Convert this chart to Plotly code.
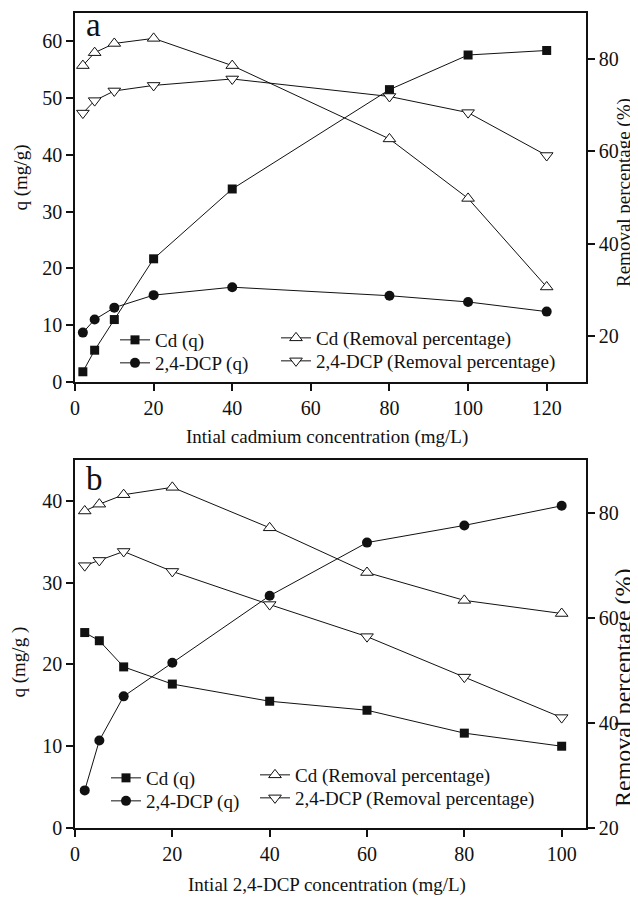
import plotly.graph_objects as go

# ---------------- data ----------------
# Panel a: initial cadmium concentration (mg/L)
conc_cd = [2, 5, 10, 20, 40, 80, 100, 120]
a_cd_q = [1.8, 5.6, 11.0, 21.7, 34.0, 51.5, 57.6, 58.4]
a_dcp_q = [8.7, 11.0, 13.1, 15.3, 16.7, 15.2, 14.1, 12.4]
a_cd_rem = [78.6, 81.4, 83.4, 84.5, 78.6, 62.7, 49.8, 30.6]
a_dcp_rem = [68.3, 71.0, 73.1, 74.3, 75.7, 71.9, 68.4, 59.1]

# Panel b: initial 2,4-DCP concentration (mg/L)
conc_dcp = [2, 5, 10, 20, 40, 60, 80, 100]
b_cd_q = [23.9, 22.9, 19.7, 17.6, 15.5, 14.4, 11.6, 10.0]
b_dcp_q = [4.6, 10.7, 16.1, 20.2, 28.4, 34.9, 37.0, 39.4]
b_cd_rem = [80.3, 81.6, 83.4, 84.8, 77.1, 68.6, 63.3, 60.8]
b_dcp_rem = [69.9, 70.9, 72.6, 68.8, 62.5, 56.4, 48.7, 41.0]

names_q = ["Cd (q)", "2,4-DCP (q)"]
names_rem = ["Cd (Removal percentage)", "2,4-DCP (Removal percentage)"]
x_title_a = "Intial cadmium concentration (mg/L)"
x_title_b = "Intial 2,4-DCP concentration (mg/L)"

# ---------------- geometry ----------------
# The page body has an 8px default margin, so the figure is made 8px smaller
# and all target (window) pixel positions are shifted by that offset.
OFF = 8
WIN_W, WIN_H = 638, 898
W, H = WIN_W - OFF, WIN_H - OFF
FRAME_L, FRAME_R, FRAME_T, FRAME_B = 75, 578, 13, 828   # window pixels
ML = FRAME_L - OFF
MT = FRAME_T - OFF
MR = WIN_W - FRAME_R - OFF
MB = WIN_H - FRAME_B
PW = W - ML - MR
PH = H - MT - MB


def px(xp):
    return (xp - OFF - ML) / PW


def py(yp):
    return (H - MB - (yp - OFF)) / PH


FONT = "Liberation Serif"
INK = "#111111"

fig = go.Figure()

line_style = dict(color=INK, width=1)
sq = dict(symbol="square", size=9, color=INK)
ci = dict(symbol="circle", size=10, color=INK)
tu = dict(symbol="triangle-up", size=11, color="white", line=dict(color=INK, width=1))
td = dict(symbol="triangle-down", size=11, color="white", line=dict(color=INK, width=1))

# Panel a
fig.add_trace(go.Scatter(x=conc_cd, y=a_cd_rem, mode="lines+markers", name=names_rem[0],
                         line=line_style, marker=tu, xaxis="x", yaxis="y2", legend="legend3"))
fig.add_trace(go.Scatter(x=conc_cd, y=a_dcp_rem, mode="lines+markers", name=names_rem[1],
                         line=line_style, marker=td, xaxis="x", yaxis="y2", legend="legend4"))
fig.add_trace(go.Scatter(x=conc_cd, y=a_cd_q, mode="lines+markers", name=names_q[0],
                         line=line_style, marker=sq, xaxis="x", yaxis="y", legend="legend"))
fig.add_trace(go.Scatter(x=conc_cd, y=a_dcp_q, mode="lines+markers", name=names_q[1],
                         line=line_style, marker=ci, xaxis="x", yaxis="y", legend="legend2"))

# Panel b
fig.add_trace(go.Scatter(x=conc_dcp, y=b_cd_rem, mode="lines+markers", name=names_rem[0],
                         line=line_style, marker=tu, xaxis="x2", yaxis="y4", legend="legend7"))
fig.add_trace(go.Scatter(x=conc_dcp, y=b_dcp_rem, mode="lines+markers", name=names_rem[1],
                         line=line_style, marker=td, xaxis="x2", yaxis="y4", legend="legend8"))
fig.add_trace(go.Scatter(x=conc_dcp, y=b_cd_q, mode="lines+markers", name=names_q[0],
                         line=line_style, marker=sq, xaxis="x2", yaxis="y3", legend="legend5"))
fig.add_trace(go.Scatter(x=conc_dcp, y=b_dcp_q, mode="lines+markers", name=names_q[1],
                         line=line_style, marker=ci, xaxis="x2", yaxis="y3", legend="legend6"))

tickfont = dict(family=FONT, size=20, color=INK)
ax_common = dict(showline=True, linecolor=INK, linewidth=1.5, ticks="outside", ticklen=7,
                 tickwidth=1.5, tickcolor=INK, showgrid=False, zeroline=False,
                 tickfont=tickfont, automargin=False)

dom_a = [py(382), 1.0]
dom_b = [0.0, py(460)]

fig.update_layout(
    template="none",
    width=W, height=H,
    showlegend=True,
    margin=dict(l=ML, r=MR, t=MT, b=MB),
    paper_bgcolor="white", plot_bgcolor="white",
    font=dict(family=FONT, size=19, color=INK),
    xaxis=dict(ax_common, domain=[0, 1], range=[0, 130], dtick=20, tick0=0,
               anchor="y", mirror=True),
    yaxis=dict(ax_common, domain=dom_a, range=[0, 65], dtick=10, tick0=0,
               anchor="x", side="left"),
    yaxis2=dict(ax_common, domain=dom_a, range=[10, 90], dtick=20, tick0=20,
                anchor="x", overlaying="y", side="right"),
    xaxis2=dict(ax_common, domain=[0, 1], range=[0, 105], dtick=20, tick0=0,
                anchor="y3", mirror=True),
    yaxis3=dict(ax_common, domain=dom_b, range=[0, 45], dtick=10, tick0=0,
                anchor="x2", side="left"),
    yaxis4=dict(ax_common, domain=dom_b, range=[20, 90], dtick=20, tick0=20,
                anchor="x2", overlaying="y3", side="right"),
)

legend_font = dict(family=FONT, size=19, color=INK)


def leg(xp, yp):
    return dict(x=px(xp), y=py(yp), xanchor="left", yanchor="middle",
                bgcolor="rgba(0,0,0,0)", borderwidth=0, font=legend_font,
                itemclick=False, itemdoubleclick=False, visible=True)


fig.update_layout(
    legend=leg(115, 340),
    legend2=leg(115, 363),
    legend3=leg(276, 338),
    legend4=leg(276, 361),
    legend5=leg(106, 778),
    legend6=leg(106, 801),
    legend7=leg(255, 775),
    legend8=leg(255, 798),
)

ann = []


def add_text(text, xp, yp, size=19, angle=0, xanchor="center"):
    ann.append(dict(text=text, x=px(xp), y=py(yp), xref="paper", yref="paper",
                    showarrow=False, textangle=angle, xanchor=xanchor, yanchor="middle",
                    font=dict(family=FONT, size=size, color=INK)))


add_text(x_title_a, 326.5, 436.7)
add_text("q (mg/g)", 21, 177.5, angle=-90)
add_text("Removal percentage (%)", 624, 193, angle=-90)
add_text("a", 84, 25, size=33, xanchor="left")

add_text(x_title_b, 326.5, 885)
add_text("q (mg/g )", 18, 662.5, angle=-90)
add_text("Removal percentage (%)", 623, 688, size=24, angle=-90)
add_text("b", 84, 479, size=33, xanchor="left")

fig.update_layout(annotations=ann)

fig.write_html("out.html")
